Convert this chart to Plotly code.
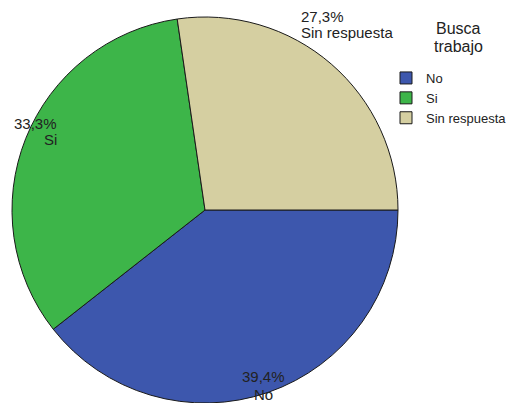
import plotly.graph_objects as go

categories = ["No", "Si", "Sin respuesta"]
values = [39.4, 33.3, 27.3]
colors = ["#3d57ad", "#3db549", "#d5cfa1"]
legend_title_lines = ["Busca", "trabajo"]

# page body has an 8px margin; work in screen pixels and convert
OFF = 8
W, H = 517 - OFF, 403 - OFF
FONT = "Arial, Liberation Sans"

def px(x):
    return (x - OFF) / W

def py(y):
    return 1 - (y - OFF) / H

fig = go.Figure()
fig.add_trace(go.Pie(
    labels=categories,
    values=values,
    sort=False,
    direction="clockwise",
    rotation=90,
    textinfo="none",
    hoverinfo="label+percent",
    marker=dict(colors=colors, line=dict(color="#1a1a1a", width=1)),
    domain=dict(x=[px(12), px(398)], y=[py(403), py(17)]),
))

def fmt(v):
    return f"{v:.1f}%".replace(".", ",")

LINE = 16
label_specs = [
    # (index, x, top y, xanchor, line gap)
    (2, 300, 7, "left", LINE),
    (1, 58, 114, "right", LINE),
    (0, 263, 367, "center", 18),
]
for i, x, y, xa, gap in label_specs:
    for k, line in enumerate([fmt(values[i]), categories[i]]):
        fig.add_annotation(
            x=px(x), y=py(y + gap * k), xref="paper", yref="paper",
            xanchor=xa, yanchor="top",
            text=line, showarrow=False,
            font=dict(family=FONT, size=15, color="#222222"),
            borderpad=0,
        )

for k, line in enumerate(legend_title_lines):
    fig.add_annotation(
        x=px(458), y=py(19 + 18 * k), xref="paper", yref="paper",
        xanchor="center", yanchor="top", align="center",
        text=line, showarrow=False,
        font=dict(family=FONT, size=16, color="#222222"),
        borderpad=0,
    )

fig.update_layout(
    width=W, height=H,
    margin=dict(l=0, r=0, t=0, b=0),
    paper_bgcolor="white",
    plot_bgcolor="white",
    showlegend=True,
    legend=dict(
        x=px(386), y=py(63), xanchor="left", yanchor="top",
        font=dict(family=FONT, size=13, color="#222222"),
        traceorder="normal",
        itemwidth=30,
        tracegroupgap=0,
        bgcolor="rgba(0,0,0,0)",
    ),
)

fig.write_html("out.html")
